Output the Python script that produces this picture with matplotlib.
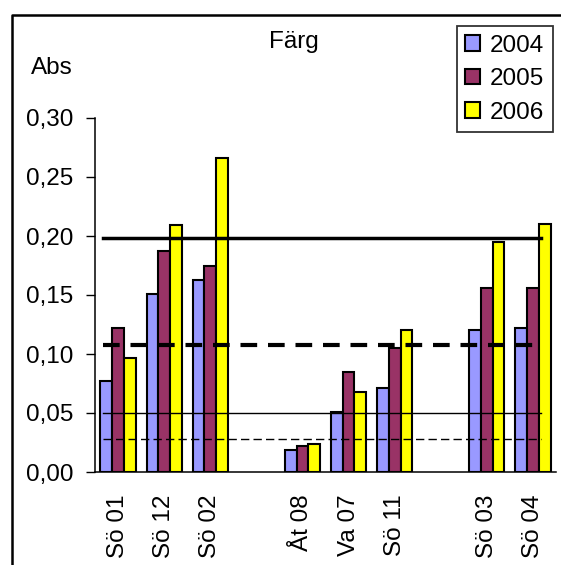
import matplotlib
matplotlib.use("Agg")
import matplotlib.pyplot as plt
import numpy as np
from matplotlib.lines import Line2D
from matplotlib.ticker import FuncFormatter

plt.rcParams['font.family'] = ['Liberation Sans', 'DejaVu Sans']

# stationer (tomma platser ger luckor mellan grupperna)
stations = ['Sö 01', 'Sö 12', 'Sö 02', '', 'Åt 08', 'Va 07', 'Sö 11', '', 'Sö 03', 'Sö 04']
years = ['2004', '2005', '2006']
v2004 = [0.077, 0.151, 0.163, np.nan, 0.0185, 0.051, 0.071, np.nan, 0.120, 0.122]
v2005 = [0.122, 0.187, 0.175, np.nan, 0.022, 0.0845, 0.105, np.nan, 0.156, 0.156]
v2006 = [0.097, 0.209, 0.266, np.nan, 0.0235, 0.0675, 0.120, np.nan, 0.195, 0.210]
colors = ['#9999FF', '#993366', '#FFFF00']

# gränsvärden
limit_thick = 0.198
limit_thick_dash = 0.108
limit_thin = 0.05
limit_thin_dash = 0.028

W, H = 561, 565
fs = 17.5
fig = plt.figure(figsize=(W / 100, H / 100), dpi=100)
ax = fig.add_axes([95 / W, 1 - 472 / H, (556 - 95) / W, (472 - 118) / H])

x = np.arange(len(stations))
bw = 0.255
for i, (vals, col, lab) in enumerate(zip([v2004, v2005, v2006], colors, years)):
    ax.bar(x + (i - 1) * bw, vals, bw, color=col, edgecolor='black',
           linewidth=1.5, label=lab, zorder=2)

x0, x1 = 0.017, 0.967
ax.axhline(limit_thick, x0, x1, color='black', lw=2.5, zorder=3)
ax.axhline(limit_thick_dash, x0, x1, color='black', lw=3, ls=(0, (4, 2.6)), zorder=3)
ax.axhline(limit_thin, x0, x1, color='black', lw=1, zorder=3)
ax.axhline(limit_thin_dash, x0, x1, color='black', lw=1, ls=(0, (6, 3)), zorder=3)

ax.set_xlim(-0.5, len(stations) - 0.5)
ax.set_ylim(0, 0.30)
ax.set_yticks(np.arange(0, 0.31, 0.05))
ax.yaxis.set_major_formatter(FuncFormatter(lambda v, p: f"{v:.2f}".replace('.', ',')))
ax.set_xticks(x)
ax.set_xticklabels(stations, rotation=90, fontsize=fs)
ax.tick_params(axis='x', length=0, pad=16)
ax.tick_params(axis='y', length=6.5, width=1, labelsize=fs, pad=9)
for s in ['top', 'right']:
    ax.spines[s].set_visible(False)
for s in ['left', 'bottom']:
    ax.spines[s].set_linewidth(1.1)

fig.text(293.5 / W, 1 - 42 / H, 'Färg', ha='center', va='center', fontsize=fs)
fig.text(31 / W, 1 - 68 / H, 'Abs', ha='left', va='center', fontsize=fs)

leg = fig.legend(loc='upper left', bbox_to_anchor=(456.7 / W, 1 - 26 / H),
                 fontsize=fs, frameon=True, fancybox=False, edgecolor='black',
                 handlelength=0.62, handleheight=0.62, handletextpad=0.4,
                 labelspacing=0.48, borderpad=0.35, borderaxespad=0)
leg.get_frame().set_linewidth(1.3)

# ram runt diagrammet (vänster och överkant)
fig.add_artist(Line2D([12 / W, 12 / W, 1], [0, 1 - 15 / H, 1 - 15 / H],
                      color='black', lw=1.8, transform=fig.transFigure))

fig.savefig('out.png', dpi=100)
